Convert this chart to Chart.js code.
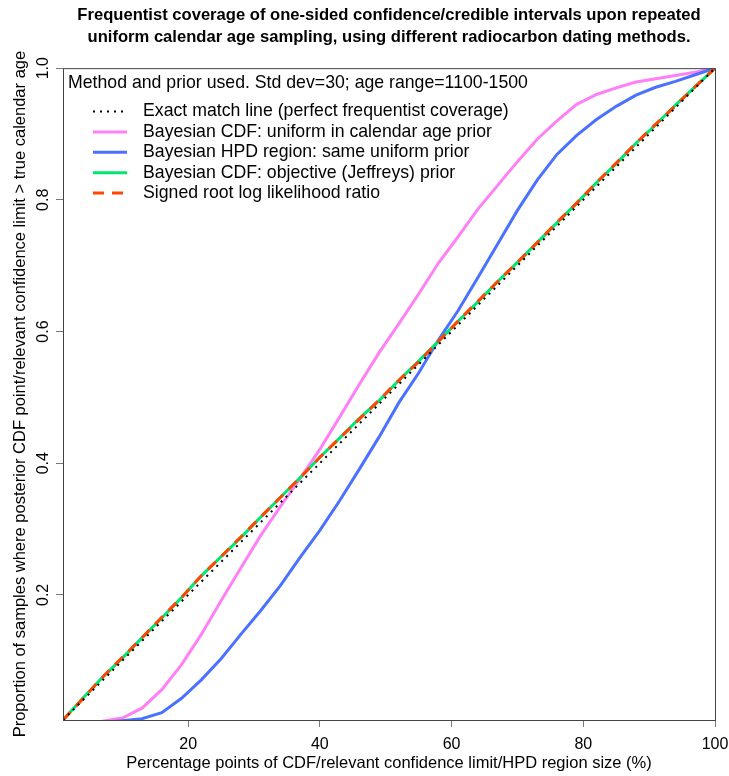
<!DOCTYPE html>
<html>
<head>
<meta charset="utf-8">
<script src="https://cdn.jsdelivr.net/npm/chart.js@4.4.1/dist/chart.umd.min.js"></script>
<style>
  html, body { margin: 0; padding: 0; background: #fff; }
  #wrap { width: 729px; height: 776px; }
</style>
</head>
<body>
<div id="wrap"><canvas id="mycanvas"></canvas></div>
<script>
// percentage points (x) shared by the simulated curves
var pctPoints = [1, 4, 7, 10, 13, 16, 19, 22, 25, 28, 31, 34, 37, 40, 43, 46, 49, 52,
  55, 58, 61, 64, 67, 70, 73, 76, 79, 82, 85, 88, 91, 94, 97, 100];

var uniformCdf = [0.002, 0.005, 0.008, 0.013, 0.028, 0.056, 0.094, 0.140, 0.191, 0.241,
  0.290, 0.334, 0.377, 0.421, 0.470, 0.520, 0.568, 0.612, 0.657, 0.704, 0.744, 0.786,
  0.822, 0.858, 0.892, 0.920, 0.945, 0.960, 0.970, 0.979, 0.984, 0.989, 0.994, 1.000];

var uniformHpd = [0.001, 0.003, 0.006, 0.009, 0.012, 0.021, 0.043, 0.071, 0.103, 0.140,
  0.176, 0.214, 0.257, 0.298, 0.343, 0.391, 0.440, 0.492, 0.537, 0.587, 0.632, 0.682,
  0.733, 0.784, 0.830, 0.869, 0.898, 0.922, 0.942, 0.959, 0.971, 0.980, 0.990, 1.000];

var jeffreysCdf = [0.010, 0.043, 0.075, 0.104, 0.135, 0.165, 0.196, 0.229, 0.258, 0.287,
  0.318, 0.348, 0.378, 0.409, 0.438, 0.468, 0.495, 0.526, 0.555, 0.585, 0.616, 0.645,
  0.676, 0.705, 0.735, 0.765, 0.795, 0.826, 0.855, 0.886, 0.914, 0.944, 0.972, 1.000];

var srllr = [0.010, 0.042, 0.075, 0.105, 0.135, 0.166, 0.196, 0.229, 0.258, 0.288,
  0.318, 0.348, 0.378, 0.409, 0.438, 0.467, 0.496, 0.526, 0.554, 0.585, 0.616, 0.646,
  0.676, 0.705, 0.735, 0.766, 0.795, 0.826, 0.856, 0.886, 0.915, 0.943, 0.972, 1.000];

var exactX = [1, 100];
var exactY = [0.01, 1.0];

var xTicks = [20, 40, 60, 80, 100];
var yTicks = [0.2, 0.4, 0.6, 0.8, 1.0];

var legendTitle = 'Method and prior used. Std dev=30; age range=1100-1500';
var FONT = "'Liberation Sans', Arial, sans-serif";

function pts(xs, ys) {
	var out = [];
	for (var i in xs) out.push({x: xs[i], y: ys[i]});
	return out;
}

function line(label, xs, ys, color, width, dash, order) {
	return {
		label: label,
		data: pts(xs, ys),
		borderColor: color,
		backgroundColor: color,
		borderWidth: width,
		borderDash: dash,
		pointRadius: 0,
		tension: 0,
		fill: false,
		order: order
	};
}

var chartdata = {
	datasets: [
		line('Exact match line (perfect frequentist coverage)', exactX, exactY, '#000000', 2, [2, 5], 0),
		line('Bayesian CDF: uniform in calendar age prior', pctPoints, uniformCdf, '#ff80f6', 3, [], 4),
		line('Bayesian HPD region: same uniform prior', pctPoints, uniformHpd, '#4a72ff', 3, [], 3),
		line('Bayesian CDF: objective (Jeffreys) prior', pctPoints, jeffreysCdf, '#00e673', 3, [], 2),
		line('Signed root log likelihood ratio', pctPoints, srllr, '#ff4500', 3, [11, 8], 1)
	]
};

// box, rotated y labels and the in-plot legend, base R style
var rStyle = {
	id: 'rStyle',
	afterDraw: function(chart) {
		var ctx = chart.ctx;
		var a = chart.chartArea;
		var ys = chart.scales.y;
		ctx.save();
		ctx.strokeStyle = '#444';
		ctx.lineWidth = 1;
		ctx.strokeRect(a.left + 0.5, a.top + 0.5, a.right - a.left, a.bottom - a.top);

		ctx.fillStyle = '#000';
		ctx.font = '16px ' + FONT;
		ctx.textAlign = 'center';
		ctx.textBaseline = 'middle';
		yTicks.forEach(function(v) {
			var py = ys.getPixelForValue(v);
			ctx.save();
			ctx.translate(a.left - 19, py);
			ctx.rotate(-Math.PI / 2);
			ctx.fillText(v.toFixed(1), 0, 0);
			ctx.restore();
		});

		ctx.font = '17.7px ' + FONT;
		ctx.textAlign = 'left';
		ctx.fillText(legendTitle, a.left + 5, 83);
		chart.data.datasets.forEach(function(ds, i) {
			var y = 111.5 + i * 20.4;
			ctx.save();
			ctx.strokeStyle = ds.borderColor;
			ctx.lineWidth = ds.borderWidth;
			ctx.setLineDash(ds.borderDash);
			ctx.beginPath();
			ctx.moveTo(a.left + 30, y);
			ctx.lineTo(a.left + 64, y);
			ctx.stroke();
			ctx.restore();
			ctx.fillText(ds.label, a.left + 80, y);
		});
		ctx.restore();
	}
};

var ctx = document.getElementById('mycanvas');

var graph = new Chart(ctx, {
	type: 'line',
	data: chartdata,
	plugins: [rStyle],
	options: {
		responsive: true,
		maintainAspectRatio: false,
		animation: false,
		layout: { padding: { left: 0, right: 14, top: 0, bottom: 0 } },
		plugins: {
			legend: { display: false },
			tooltip: { enabled: false },
			title: {
				display: true,
				fullSize: false,
				text: ['Frequentist coverage of one-sided confidence/credible intervals upon repeated',
					'uniform calendar age sampling, using different radiocarbon dating methods.'],
				color: '#000',
				font: { family: FONT, size: 16.6, weight: 'bold', lineHeight: 1.3 },
				padding: { top: 5, bottom: 20 }
			}
		},
		scales: {
			x: {
				type: 'linear',
				min: 1,
				max: 100,
				afterBuildTicks: function(scale) {
					scale.ticks = xTicks.map(function(v) { return {value: v}; });
				},
				afterFit: function(scale) {
					scale.height = 56;
					scale.paddingLeft = 0;
					scale.paddingRight = 0;
				},
				border: { display: false },
				grid: { drawOnChartArea: false, drawTicks: true, tickLength: 7, color: '#777' },
				ticks: { color: '#000', padding: 8, maxRotation: 0, font: { family: FONT, size: 16 } },
				title: {
					display: true,
					text: 'Percentage points of CDF/relevant confidence limit/HPD region size (%)',
					color: '#000',
					font: { family: FONT, size: 16.5 },
					padding: 3
				}
			},
			y: {
				type: 'linear',
				min: 0.01,
				max: 1.0,
				afterBuildTicks: function(scale) {
					scale.ticks = yTicks.map(function(v) { return {value: v}; });
				},
				afterFit: function(scale) {
					scale.width = 63;
					scale.paddingTop = 0;
					scale.paddingBottom = 0;
				},
				border: { display: false },
				grid: { drawOnChartArea: false, drawTicks: true, tickLength: 7, color: '#777' },
				ticks: { display: false },
				title: {
					display: true,
					text: 'Proportion of samples where posterior CDF point/relevant confidence limit > true calendar age',
					color: '#000',
					font: { family: FONT, size: 16.5 },
					padding: 11
				}
			}
		}
	}
});
</script>
</body>
</html>
